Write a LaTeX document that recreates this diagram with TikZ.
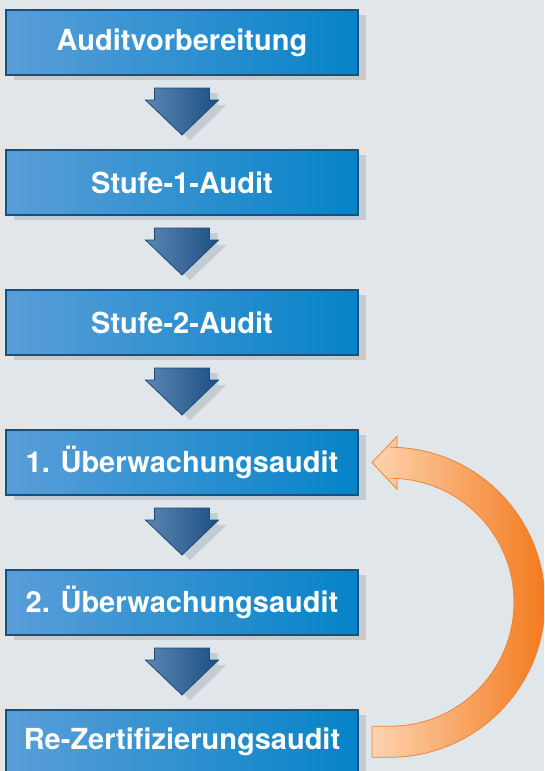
\documentclass[tikz,border=0pt]{standalone}
\usepackage{fontspec}
\setmainfont{TeX Gyre Heros}
\usetikzlibrary{shadows,calc}

\definecolor{bg}{HTML}{E1E6EA}
\definecolor{shadowc}{HTML}{C3CCD3}
\definecolor{boxL}{HTML}{5A9ED8}
\definecolor{boxM}{HTML}{82B1E0}
\definecolor{boxR}{HTML}{0683C8}
\definecolor{boxedge}{HTML}{16507F}
\definecolor{arrL}{HTML}{5A86B2}
\definecolor{arrR}{HTML}{1D4F83}
\definecolor{arredge}{HTML}{1B4A7A}
\definecolor{orL}{HTML}{FDD4AF}
\definecolor{orR}{HTML}{F37A1F}
\definecolor{oredge}{HTML}{EF8637}

\tikzset{
  stepbox/.style={
    rectangle, minimum width=352pt, minimum height=65pt,
    left color=boxL, middle color=boxM, right color=boxR,
    draw=boxedge, line width=2pt,
    text=white, font=\fontsize{29}{34}\selectfont\bfseries,
    drop shadow={shadow xshift=8pt, shadow yshift=-5pt, fill=shadowc, opacity=1}
  },
  downarrow/.pic={
    \fill[shadowc] (-19.5,5) -- (35.5,5) -- (35.5,17) -- (44.5,17) -- (8,52) -- (-28.5,17) -- (-19.5,17) -- cycle;
    \shade[left color=arrL, right color=arrR, draw=arredge, line width=0.8pt, line join=miter]
      (-27.5,0) -- (27.5,0) -- (27.5,12) -- (36.5,12) -- (0,47) -- (-36.5,12) -- (-27.5,12) -- cycle;
  }
}

\begin{document}
\begin{tikzpicture}[x=1pt, y=-1pt]
  \useasboundingbox (0,0) rectangle (544,771);
  \fill[bg] (0,0) rectangle (544,771);
  \clip (0,0) rectangle (544,771);

  % process steps
  \node[stepbox] (b1) at (182,42.5)  {Auditvorbereitung};
  \node[stepbox] (b2) at (182,182.5) {Stufe-1-Audit};
  \node[stepbox] (b3) at (182,322.5) {Stufe-2-Audit};
  \node[stepbox] (b4) at (182,462.5) {1. Überwachungsaudit};
  \node[stepbox] (b5) at (182,602.5) {2. Überwachungsaudit};
  \node[stepbox] (b6) at (182,742)   {Re-Zertifizierungsaudit};

  % block arrows between consecutive steps
  \foreach \a/\b in {b1/b2, b2/b3, b3/b4, b4/b5, b5/b6}
    \pic at ($(\a.south)+(0,12)$) {downarrow};

  % loop arrow from re-certification back to the first surveillance audit
  \coordinate (c) at ($(b4.center)!0.5!(b6.center)+(208,0)$);
  \fill[shadowc, shift={(8,5)}]
    ($(c)+(-18,155)$) -- ($(c)+(0,155)$) arc[start angle=90, end angle=-90, radius=155]
    -- ($(c)+(7,-155)$) -- ($(c)+(7,-166)$) -- ($(b4.east)+(13,0)$) -- ($(c)+(7,-113)$)
    -- ($(c)+(7,-124)$) -- ($(c)+(0,-124)$) arc[start angle=-90, end angle=90, radius=124]
    -- ($(c)+(-18,124)$) -- cycle;
  \shade[left color=orL, right color=orR, draw=oredge, line width=0.8pt, line join=miter]
    ($(c)+(-18,155)$) -- ($(c)+(0,155)$) arc[start angle=90, end angle=-90, radius=155]
    -- ($(c)+(7,-155)$) -- ($(c)+(7,-166)$) -- ($(b4.east)+(13,0)$) -- ($(c)+(7,-113)$)
    -- ($(c)+(7,-124)$) -- ($(c)+(0,-124)$) arc[start angle=-90, end angle=90, radius=124]
    -- ($(c)+(-18,124)$) -- cycle;
\end{tikzpicture}
\end{document}
